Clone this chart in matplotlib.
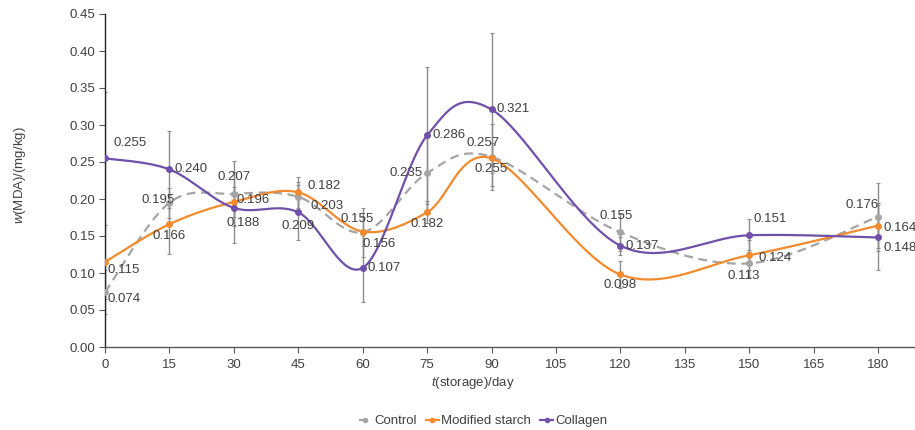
import numpy as np
import matplotlib
matplotlib.use("Agg")
import matplotlib.pyplot as plt
from matplotlib.lines import Line2D

plt.rcParams['font.family'] = ['Liberation Sans', 'DejaVu Sans']
plt.rcParams['mathtext.fontset'] = 'custom'
plt.rcParams['mathtext.it'] = 'Liberation Sans:italic'
plt.rcParams['mathtext.rm'] = 'Liberation Sans'

days = [0, 15, 30, 45, 60, 75, 90, 120, 150, 180]
control = [0.074, 0.195, 0.207, 0.203, 0.155, 0.235, 0.257, 0.155, 0.113, 0.176]
starch = [0.115, 0.166, 0.196, 0.209, 0.156, 0.182, 0.255, 0.098, 0.124, 0.164]
collagen = [0.255, 0.240, 0.188, 0.182, 0.107, 0.286, 0.321, 0.137, 0.151, 0.148]
control_err = [0.030, 0.020, 0.044, 0.020, 0.033, 0.050, 0.045, 0.025, 0.018, 0.046]
starch_err = [0.050, 0.040, 0.020, 0.021, 0.020, 0.015, 0.020, 0.018, 0.020, 0.030]
collagen_err = [0.090, 0.052, 0.048, 0.037, 0.046, 0.093, 0.104, 0.012, 0.022, 0.044]
# label texts as printed in the picture
control_labels = ["0.074", "0.195", "0.207", "0.203", "0.155", "0.235", "0.257", "0.155", "0.113", "0.176"]
starch_labels = ["0.115", "0.166", "0.196", "0.182", "0.156", "0.182", "0.255", "0.098", "0.124", "0.164"]
collagen_labels = ["0.255", "0.240", "0.188", "0.209", "0.107", "0.286", "0.321", "0.137", "0.151", "0.148"]
names = ["Control", "Modified starch", "Collagen"]
xticks = list(range(0, 181, 15))
yticks = [0.00, 0.05, 0.10, 0.15, 0.20, 0.25, 0.30, 0.35, 0.40, 0.45]

# label offsets (pixels, dx, dy with dy positive downward) and horizontal alignment
ctrl_off = [(3, 7, 'left'), (-11, -3, 'center'), (0, -17, 'center'), (12, 9, 'left'), (-6, -13, 'center'),
            (-4, 0, 'right'), (-8, -14, 'center'), (-4, -16, 'center'), (-6, 13, 'center'), (-16, -12, 'center')]
st_off = [(2, 8, 'left'), (0, 12, 'center'), (3, -2, 'left'), (9, -6, 'left'), (0, 12, 'left'),
          (0, 12, 'center'), (0, 11, 'center'), (0, 11, 'center'), (9, 3, 'left'), (5, 2, 'left')]
col_off = [(8, -15, 'left'), (5, 0, 'left'), (9, 15, 'center'), (0, 14, 'center'), (5, 0, 'left'),
           (5, 0, 'left'), (5, 0, 'left'), (5, 0, 'left'), (4, -16, 'left'), (5, 11, 'left')]

def smooth(xs, ys, n=40):
    P = np.column_stack([xs, ys]).astype(float)
    Pe = np.vstack([P[0], P, P[-1]])
    out = []
    for i in range(len(P) - 1):
        p0, p1, p2, p3 = Pe[i], Pe[i + 1], Pe[i + 2], Pe[i + 3]
        c1 = p1 + (p2 - p0) / 6.0
        c2 = p2 - (p3 - p1) / 6.0
        t = np.linspace(0, 1, n)[:, None]
        seg = (1 - t) ** 3 * p1 + 3 * (1 - t) ** 2 * t * c1 + 3 * (1 - t) * t ** 2 * c2 + t ** 3 * p2
        out.append(seg if i == 0 else seg[1:])
    s = np.vstack(out)
    return s[:, 0], s[:, 1]

fig = plt.figure(figsize=(9.15, 4.30), dpi=100)
ax = fig.add_axes([105 / 915, 83 / 430, 810 / 915, 333 / 430])

txt = '#404040'
colors = ['#A5A5A5', '#F28A2E', '#7050A8']
styles = [(0, (4, 2.5)), '-', '-']
series = [control, starch, collagen]
errs = [control_err, starch_err, collagen_err]
labs = [control_labels, starch_labels, collagen_labels]
offs = [ctrl_off, st_off, col_off]

for vals, err in zip(series, errs):
    ax.errorbar(days, vals, yerr=err, fmt='none', ecolor='#8C8C8C', elinewidth=1.0,
                capsize=1.5, capthick=0.8, zorder=2)

for vals, c, ls in zip(series, colors, styles):
    sx, sy = smooth(days, vals)
    ax.plot(sx, sy, color=c, lw=1.6, ls=ls, zorder=3)
    ax.plot(days, vals, 'o', color=c, ms=4, zorder=4)

for vals, lab, off in zip(series, labs, offs):
    for x, y, t, (dx, dy, ha) in zip(days, vals, lab, off):
        ax.annotate(t, (x, y), xytext=(dx, -dy), textcoords='offset pixels',
                    ha=ha, va='center', fontsize=9.5, color=txt, zorder=5)

ax.set_xlim(0, 188.6)
ax.set_ylim(0, 0.45)
ax.set_xticks(xticks)
ax.set_yticks(yticks)
ax.set_yticklabels([f"{v:.2f}" for v in yticks])
ax.tick_params(axis='both', colors='#595959', labelcolor=txt, labelsize=9.5, length=4, width=0.8)
ax.tick_params(axis='y', pad=3)
ax.tick_params(axis='x', pad=5)
for s in ['top', 'right']:
    ax.spines[s].set_visible(False)
ax.spines['left'].set_color('#262626')
ax.spines['bottom'].set_color('#595959')
ax.spines['left'].set_linewidth(1.0)
ax.spines['bottom'].set_linewidth(1.0)

fig.text(473 / 915, 1 - 383 / 430, r'$t$(storage)/day', ha='center', va='center', fontsize=9.5, color=txt)
fig.text(20 / 915, 1 - 175 / 430, r'$w$(MDA)/(mg/kg)', ha='center', va='center', rotation=90,
         fontsize=9.5, color=txt)

handles = [Line2D([0], [0], color=c, ls=ls, lw=1.6, marker='o', ms=3) for c, ls in zip(colors, styles)]
fig.legend(handles, names, loc='center', bbox_to_anchor=(483 / 915, 1 - 421 / 430), ncol=3,
           frameon=False, fontsize=9.5, handlelength=1.0, handletextpad=0.15, columnspacing=0.7,
           labelcolor=txt)

fig.savefig('out.png', dpi=100)
